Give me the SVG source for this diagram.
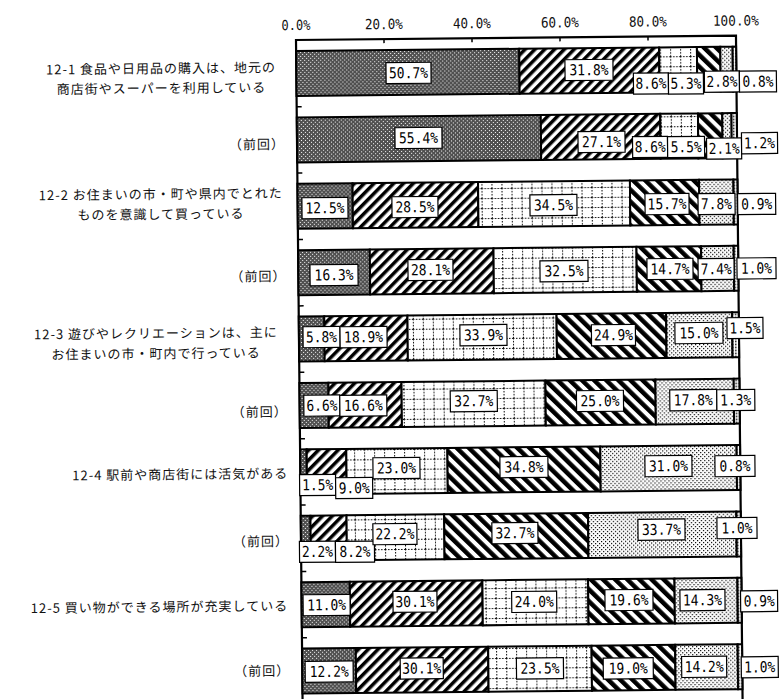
<svg xmlns="http://www.w3.org/2000/svg" width="779" height="699" viewBox="0 0 779 699">
<style>
.cat{font-family:"Noto Sans CJK JP","Noto Sans",sans-serif;font-size:13px;letter-spacing:1px;fill:#111}
.mid{text-anchor:middle}
.end{text-anchor:end}
.ax{font-family:"DejaVu Sans Mono",monospace;font-size:14px;fill:#111;text-anchor:middle}
.seg{stroke:#000;stroke-width:2}
.f1{fill:url(#p1)}.f2{fill:url(#p2)}.f3{fill:url(#p3)}.f4{fill:url(#p4)}.f5{fill:url(#p5)}.f6{fill:url(#p6)}
.lb rect{fill:#fff;stroke:#000;stroke-width:1.2}
.lb text{font-family:"DejaVu Sans Mono",monospace;font-size:15px;fill:#000;text-anchor:middle}
.tick{stroke:#000;stroke-width:1.5;fill:none}
</style>
<defs>
<pattern id="p1" width="4" height="4" patternUnits="userSpaceOnUse"><rect width="4" height="4" fill="#505050"/><rect width="1" height="1" fill="#fff"/><rect x="2" y="2" width="1" height="1" fill="#fff"/></pattern>
<pattern id="p2" width="7" height="7" patternUnits="userSpaceOnUse" patternTransform="rotate(45)"><rect width="7" height="7" fill="#fff"/><rect width="3.5" height="7" fill="#000"/></pattern>
<pattern id="p3" width="10" height="10" patternUnits="userSpaceOnUse"><rect width="10" height="10" fill="#fff"/><path d="M0 0.5H10M0.5 0V10" stroke="#000" stroke-width="1" stroke-dasharray="1.5 1.5"/></pattern>
<pattern id="p4" width="8.5" height="8.5" patternUnits="userSpaceOnUse" patternTransform="rotate(-45)"><rect width="8.5" height="8.5" fill="#fff"/><rect width="4.5" height="8.5" fill="#000"/></pattern>
<pattern id="p5" width="4" height="4" patternUnits="userSpaceOnUse"><rect width="4" height="4" fill="#fff"/><rect width="1.2" height="1.2" fill="#000"/><rect x="2" y="2" width="1.2" height="1.2" fill="#000"/></pattern>
<pattern id="p6" width="3" height="3" patternUnits="userSpaceOnUse"><rect width="3" height="3" fill="#fff"/><rect width="1.5" height="1.5" fill="#000"/></pattern>
</defs>
<rect width="779" height="699" fill="#fff"/>
<g transform="rotate(-0.57 296 40)">
<g id="axis">
<text class="ax" x="296" y="30" textLength="29" lengthAdjust="spacingAndGlyphs">0.0%</text>
<text class="ax" x="384" y="30" textLength="38" lengthAdjust="spacingAndGlyphs">20.0%</text>
<text class="ax" x="472" y="30" textLength="38" lengthAdjust="spacingAndGlyphs">40.0%</text>
<text class="ax" x="560" y="30" textLength="38" lengthAdjust="spacingAndGlyphs">60.0%</text>
<text class="ax" x="648" y="30" textLength="38" lengthAdjust="spacingAndGlyphs">80.0%</text>
<text class="ax" x="736" y="30" textLength="46" lengthAdjust="spacingAndGlyphs">100.0%</text>
</g>
<g id="categories">
<g id="cat-12-1"><text class="cat mid" x="160.7" y="71.9">12-1 食品や日用品の購入は、地元の</text><text class="cat mid" x="161" y="91.7">商店街やスーパーを利用している</text></g>
<g id="cat-12-1-prev"><text class="cat end" x="284" y="148.8">（前回）</text></g>
<g id="cat-12-2"><text class="cat mid" x="159.2" y="197.6">12-2 お住まいの市・町や県内でとれた</text><text class="cat mid" x="159.2" y="217.7">ものを意識して買っている</text></g>
<g id="cat-12-2-prev"><text class="cat end" x="284" y="280.8">（前回）</text></g>
<g id="cat-12-3"><text class="cat mid" x="153" y="336.7">12-3 遊びやレクリエーションは、主に</text><text class="cat mid" x="153" y="357">お住まいの市・町内で行っている</text></g>
<g id="cat-12-3-prev"><text class="cat end" x="284" y="416.3">（前回）</text></g>
<g id="cat-12-4"><text class="cat end" x="284" y="478">12-4 駅前や商店街には活気がある</text></g>
<g id="cat-12-4-prev"><text class="cat end" x="284" y="545.8">（前回）</text></g>
<g id="cat-12-5"><text class="cat end" x="282.5" y="610.4">12-5 買い物ができる場所が充実している</text></g>
<g id="cat-12-5-prev"><text class="cat end" x="284" y="675.3">（前回）</text></g>
</g>
<g id="frame">
<path d="M296 720V40H736V720" fill="none" stroke="#000" stroke-width="2.2"/>
<path class="tick" d="M384 40V44M472 40V44M560 40V44M648 40V44"/>
<path class="tick" d="M296 106.7H301M296 173.1H301M296 239.5H301M296 305.9H301M296 372.3H301M296 438.7H301M296 505.1H301M296 571.5H301M296 637.9H301"/>
</g>
<g id="bar-12-1">
<rect class="seg f1" x="296" y="51" width="223.1" height="45"/>
<rect class="seg f2" x="519.1" y="51" width="139.9" height="45"/>
<rect class="seg f3" x="659" y="51" width="37.8" height="45"/>
<rect class="seg f4" x="696.8" y="51" width="23.4" height="45"/>
<rect class="seg f5" x="720.2" y="51" width="12.3" height="45"/>
<rect class="seg f6" x="732.5" y="51" width="3.5" height="45"/>
<g class="lb"><rect x="385.7" y="63.6" width="45" height="21"/><text x="408.2" y="79.3" textLength="39" lengthAdjust="spacingAndGlyphs">50.7%</text></g>
<g class="lb"><rect x="564.7" y="62.4" width="48" height="21"/><text x="588.7" y="78.1" textLength="39" lengthAdjust="spacingAndGlyphs">31.8%</text></g>
<g class="lb"><rect x="633" y="76.5" width="35" height="21"/><text x="650.5" y="92.2" textLength="31" lengthAdjust="spacingAndGlyphs">8.6%</text></g>
<g class="lb"><rect x="668" y="76.9" width="35" height="21"/><text x="685.5" y="92.6" textLength="31" lengthAdjust="spacingAndGlyphs">5.3%</text></g>
<g class="lb"><rect x="704" y="75.3" width="35" height="21"/><text x="721.5" y="91" textLength="31" lengthAdjust="spacingAndGlyphs">2.8%</text></g>
<g class="lb"><rect x="739" y="75.6" width="37" height="21"/><text x="757.5" y="91.3" textLength="31" lengthAdjust="spacingAndGlyphs">0.8%</text></g>
</g>
<g id="bar-12-1-prev">
<rect class="seg f1" x="296" y="117.4" width="244" height="45"/>
<rect class="seg f2" x="540" y="117.4" width="119.4" height="45"/>
<rect class="seg f3" x="659.4" y="117.4" width="37.8" height="45"/>
<rect class="seg f4" x="697.2" y="117.4" width="24.3" height="45"/>
<rect class="seg f5" x="721.5" y="117.4" width="9.2" height="45"/>
<rect class="seg f6" x="730.7" y="117.4" width="5.3" height="45"/>
<g class="lb"><rect x="394" y="128.7" width="47" height="21"/><text x="417.5" y="144.4" textLength="39" lengthAdjust="spacingAndGlyphs">55.4%</text></g>
<g class="lb"><rect x="577" y="134.5" width="47" height="21"/><text x="600.5" y="150.2" textLength="39" lengthAdjust="spacingAndGlyphs">27.1%</text></g>
<g class="lb"><rect x="631.5" y="140" width="35" height="21"/><text x="649" y="155.7" textLength="31" lengthAdjust="spacingAndGlyphs">8.6%</text></g>
<g class="lb"><rect x="666.5" y="140.4" width="37" height="21"/><text x="685" y="156.1" textLength="31" lengthAdjust="spacingAndGlyphs">5.5%</text></g>
<g class="lb"><rect x="705.5" y="142.3" width="35" height="21"/><text x="723" y="158" textLength="31" lengthAdjust="spacingAndGlyphs">2.1%</text></g>
<g class="lb"><rect x="740.5" y="137.2" width="36" height="21"/><text x="758.5" y="152.9" textLength="31" lengthAdjust="spacingAndGlyphs">1.2%</text></g>
</g>
<g id="bar-12-2">
<rect class="seg f1" x="296" y="183.8" width="55.1" height="45"/>
<rect class="seg f2" x="351.1" y="183.8" width="125.5" height="45"/>
<rect class="seg f3" x="476.6" y="183.8" width="151.9" height="45"/>
<rect class="seg f4" x="628.5" y="183.8" width="69.2" height="45"/>
<rect class="seg f5" x="697.7" y="183.8" width="34.3" height="45"/>
<rect class="seg f6" x="732" y="183.8" width="4" height="45"/>
<g class="lb"><rect x="300.3" y="197.8" width="46" height="21"/><text x="323.3" y="213.5" textLength="39" lengthAdjust="spacingAndGlyphs">12.5%</text></g>
<g class="lb"><rect x="390.3" y="197.7" width="46" height="21"/><text x="413.3" y="213.4" textLength="39" lengthAdjust="spacingAndGlyphs">28.5%</text></g>
<g class="lb"><rect x="528.3" y="197.1" width="47" height="21"/><text x="551.8" y="212.8" textLength="39" lengthAdjust="spacingAndGlyphs">34.5%</text></g>
<g class="lb"><rect x="643.4" y="197.2" width="44" height="21"/><text x="665.4" y="212.9" textLength="39" lengthAdjust="spacingAndGlyphs">15.7%</text></g>
<g class="lb"><rect x="696.4" y="197.7" width="37" height="21"/><text x="714.9" y="213.4" textLength="31" lengthAdjust="spacingAndGlyphs">7.8%</text></g>
<g class="lb"><rect x="736" y="198.1" width="38" height="21"/><text x="755" y="213.8" textLength="31" lengthAdjust="spacingAndGlyphs">0.9%</text></g>
</g>
<g id="bar-12-2-prev">
<rect class="seg f1" x="296" y="250.2" width="71.7" height="45"/>
<rect class="seg f2" x="367.7" y="250.2" width="123.7" height="45"/>
<rect class="seg f3" x="491.4" y="250.2" width="143" height="45"/>
<rect class="seg f4" x="634.4" y="250.2" width="64.6" height="45"/>
<rect class="seg f5" x="699" y="250.2" width="32.6" height="45"/>
<rect class="seg f6" x="731.6" y="250.2" width="4.4" height="45"/>
<g class="lb"><rect x="307.7" y="264.9" width="48" height="21"/><text x="331.7" y="280.6" textLength="39" lengthAdjust="spacingAndGlyphs">16.3%</text></g>
<g class="lb"><rect x="405.7" y="260.8" width="45" height="21"/><text x="428.2" y="276.5" textLength="39" lengthAdjust="spacingAndGlyphs">28.1%</text></g>
<g class="lb"><rect x="537.7" y="263.2" width="48" height="21"/><text x="561.7" y="278.9" textLength="39" lengthAdjust="spacingAndGlyphs">32.5%</text></g>
<g class="lb"><rect x="644.7" y="262.2" width="46" height="21"/><text x="667.7" y="277.9" textLength="39" lengthAdjust="spacingAndGlyphs">14.7%</text></g>
<g class="lb"><rect x="695.8" y="262.7" width="36" height="21"/><text x="713.8" y="278.4" textLength="31" lengthAdjust="spacingAndGlyphs">7.4%</text></g>
<g class="lb"><rect x="734.7" y="262.4" width="39" height="21"/><text x="754.2" y="278.1" textLength="31" lengthAdjust="spacingAndGlyphs">1.0%</text></g>
</g>
<g id="bar-12-3">
<rect class="seg f1" x="296" y="316.6" width="25.5" height="45"/>
<rect class="seg f2" x="321.5" y="316.6" width="83.2" height="45"/>
<rect class="seg f3" x="404.7" y="316.6" width="149.1" height="45"/>
<rect class="seg f4" x="553.8" y="316.6" width="109.6" height="45"/>
<rect class="seg f5" x="663.4" y="316.6" width="66" height="45"/>
<rect class="seg f6" x="729.4" y="316.6" width="6.6" height="45"/>
<g class="lb"><rect x="300.1" y="326.8" width="37" height="21"/><text x="318.6" y="342.5" textLength="31" lengthAdjust="spacingAndGlyphs">5.8%</text></g>
<g class="lb"><rect x="337.1" y="327.2" width="47" height="21"/><text x="360.6" y="342.9" textLength="39" lengthAdjust="spacingAndGlyphs">18.9%</text></g>
<g class="lb"><rect x="457" y="326.4" width="47" height="21"/><text x="480.5" y="342.1" textLength="39" lengthAdjust="spacingAndGlyphs">33.9%</text></g>
<g class="lb"><rect x="588.5" y="327.7" width="44" height="21"/><text x="610.5" y="343.4" textLength="39" lengthAdjust="spacingAndGlyphs">24.9%</text></g>
<g class="lb"><rect x="672" y="326.5" width="48" height="21"/><text x="696" y="342.2" textLength="39" lengthAdjust="spacingAndGlyphs">15.0%</text></g>
<g class="lb"><rect x="724.1" y="322" width="36" height="21"/><text x="742.1" y="337.7" textLength="31" lengthAdjust="spacingAndGlyphs">1.5%</text></g>
</g>
<g id="bar-12-3-prev">
<rect class="seg f1" x="296" y="383" width="29" height="45"/>
<rect class="seg f2" x="325" y="383" width="73.1" height="45"/>
<rect class="seg f3" x="398.1" y="383" width="143.9" height="45"/>
<rect class="seg f4" x="542" y="383" width="110" height="45"/>
<rect class="seg f5" x="652" y="383" width="78.3" height="45"/>
<rect class="seg f6" x="730.3" y="383" width="5.7" height="45"/>
<g class="lb"><rect x="300.2" y="395.3" width="36" height="21"/><text x="318.2" y="411" textLength="31" lengthAdjust="spacingAndGlyphs">6.6%</text></g>
<g class="lb"><rect x="336.2" y="395.7" width="47" height="21"/><text x="359.7" y="411.4" textLength="39" lengthAdjust="spacingAndGlyphs">16.6%</text></g>
<g class="lb"><rect x="446.7" y="392.3" width="47" height="21"/><text x="470.2" y="408" textLength="39" lengthAdjust="spacingAndGlyphs">32.7%</text></g>
<g class="lb"><rect x="572.9" y="393.5" width="47" height="21"/><text x="596.4" y="409.2" textLength="39" lengthAdjust="spacingAndGlyphs">25.0%</text></g>
<g class="lb"><rect x="666.2" y="393.5" width="47" height="21"/><text x="689.7" y="409.2" textLength="39" lengthAdjust="spacingAndGlyphs">17.8%</text></g>
<g class="lb"><rect x="713.2" y="393.9" width="38" height="21"/><text x="732.2" y="409.6" textLength="31" lengthAdjust="spacingAndGlyphs">1.3%</text></g>
</g>
<g id="bar-12-4">
<rect class="seg f1" x="296" y="449.4" width="6.6" height="45"/>
<rect class="seg f2" x="302.6" y="449.4" width="39.6" height="45"/>
<rect class="seg f3" x="342.2" y="449.4" width="101.1" height="45"/>
<rect class="seg f4" x="443.3" y="449.4" width="152.9" height="45"/>
<rect class="seg f5" x="596.2" y="449.4" width="136.3" height="45"/>
<rect class="seg f6" x="732.5" y="449.4" width="3.5" height="45"/>
<g class="lb"><rect x="295.2" y="474.7" width="36" height="21"/><text x="313.2" y="490.4" textLength="31" lengthAdjust="spacingAndGlyphs">1.5%</text></g>
<g class="lb"><rect x="331.2" y="478.1" width="37" height="21"/><text x="349.7" y="493.8" textLength="31" lengthAdjust="spacingAndGlyphs">9.0%</text></g>
<g class="lb"><rect x="368.7" y="458.5" width="47" height="21"/><text x="392.2" y="474.2" textLength="39" lengthAdjust="spacingAndGlyphs">23.0%</text></g>
<g class="lb"><rect x="495.7" y="458.8" width="48" height="21"/><text x="519.7" y="474.5" textLength="39" lengthAdjust="spacingAndGlyphs">34.8%</text></g>
<g class="lb"><rect x="640.7" y="459.2" width="47" height="21"/><text x="664.2" y="474.9" textLength="39" lengthAdjust="spacingAndGlyphs">31.0%</text></g>
<g class="lb"><rect x="710.7" y="459.9" width="40" height="21"/><text x="730.7" y="475.6" textLength="31" lengthAdjust="spacingAndGlyphs">0.8%</text></g>
</g>
<g id="bar-12-4-prev">
<rect class="seg f1" x="296" y="515.8" width="9.7" height="45"/>
<rect class="seg f2" x="305.7" y="515.8" width="36.1" height="45"/>
<rect class="seg f3" x="341.8" y="515.8" width="97.6" height="45"/>
<rect class="seg f4" x="439.4" y="515.8" width="143.9" height="45"/>
<rect class="seg f5" x="583.3" y="515.8" width="148.3" height="45"/>
<rect class="seg f6" x="731.6" y="515.8" width="4.4" height="45"/>
<g class="lb"><rect x="294.4" y="541.4" width="36" height="21"/><text x="312.4" y="557.1" textLength="31" lengthAdjust="spacingAndGlyphs">2.2%</text></g>
<g class="lb"><rect x="330.4" y="541.8" width="39" height="21"/><text x="349.9" y="557.5" textLength="31" lengthAdjust="spacingAndGlyphs">8.2%</text></g>
<g class="lb"><rect x="368" y="524.5" width="44" height="21"/><text x="390" y="540.2" textLength="39" lengthAdjust="spacingAndGlyphs">22.2%</text></g>
<g class="lb"><rect x="487" y="524.7" width="46" height="21"/><text x="510" y="540.4" textLength="39" lengthAdjust="spacingAndGlyphs">32.7%</text></g>
<g class="lb"><rect x="633.1" y="522.7" width="47" height="21"/><text x="656.6" y="538.4" textLength="39" lengthAdjust="spacingAndGlyphs">33.7%</text></g>
<g class="lb"><rect x="712.1" y="521.9" width="40" height="21"/><text x="732.1" y="537.6" textLength="31" lengthAdjust="spacingAndGlyphs">1.0%</text></g>
</g>
<g id="bar-12-5">
<rect class="seg f1" x="296" y="582.2" width="48.4" height="45"/>
<rect class="seg f2" x="344.4" y="582.2" width="132.6" height="45"/>
<rect class="seg f3" x="477" y="582.2" width="105.7" height="45"/>
<rect class="seg f4" x="582.7" y="582.2" width="86.4" height="45"/>
<rect class="seg f5" x="669.1" y="582.2" width="62.9" height="45"/>
<rect class="seg f6" x="732" y="582.2" width="4" height="45"/>
<g class="lb"><rect x="297.5" y="594.8" width="47" height="21"/><text x="321" y="610.5" textLength="39" lengthAdjust="spacingAndGlyphs">11.0%</text></g>
<g class="lb"><rect x="387.4" y="592.4" width="44" height="21"/><text x="409.4" y="608.1" textLength="39" lengthAdjust="spacingAndGlyphs">30.1%</text></g>
<g class="lb"><rect x="506.1" y="593.6" width="45" height="21"/><text x="528.6" y="609.3" textLength="39" lengthAdjust="spacingAndGlyphs">24.0%</text></g>
<g class="lb"><rect x="599.4" y="592.8" width="48" height="21"/><text x="623.4" y="608.5" textLength="39" lengthAdjust="spacingAndGlyphs">19.6%</text></g>
<g class="lb"><rect x="674.4" y="593.6" width="45" height="21"/><text x="696.9" y="609.3" textLength="39" lengthAdjust="spacingAndGlyphs">14.3%</text></g>
<g class="lb"><rect x="735" y="595.2" width="37" height="21"/><text x="753.5" y="610.9" textLength="31" lengthAdjust="spacingAndGlyphs">0.9%</text></g>
</g>
<g id="bar-12-5-prev">
<rect class="seg f1" x="296" y="648.6" width="53.7" height="45"/>
<rect class="seg f2" x="349.7" y="648.6" width="132.4" height="45"/>
<rect class="seg f3" x="482.1" y="648.6" width="103.4" height="45"/>
<rect class="seg f4" x="585.5" y="648.6" width="83.6" height="45"/>
<rect class="seg f5" x="669.1" y="648.6" width="62.5" height="45"/>
<rect class="seg f6" x="731.6" y="648.6" width="4.4" height="45"/>
<g class="lb"><rect x="298.9" y="661.5" width="48" height="21"/><text x="322.9" y="677.2" textLength="39" lengthAdjust="spacingAndGlyphs">12.2%</text></g>
<g class="lb"><rect x="394" y="659.1" width="43" height="21"/><text x="415.5" y="674.8" textLength="39" lengthAdjust="spacingAndGlyphs">30.1%</text></g>
<g class="lb"><rect x="510.2" y="660.2" width="47" height="21"/><text x="533.7" y="675.9" textLength="39" lengthAdjust="spacingAndGlyphs">23.5%</text></g>
<g class="lb"><rect x="597" y="661.1" width="50" height="21"/><text x="622" y="676.8" textLength="39" lengthAdjust="spacingAndGlyphs">19.0%</text></g>
<g class="lb"><rect x="675.4" y="660.3" width="45" height="21"/><text x="697.9" y="676" textLength="39" lengthAdjust="spacingAndGlyphs">14.2%</text></g>
<g class="lb"><rect x="735" y="661.2" width="37" height="21"/><text x="753.5" y="676.9" textLength="31" lengthAdjust="spacingAndGlyphs">1.0%</text></g>
</g>
</g>
</svg>
